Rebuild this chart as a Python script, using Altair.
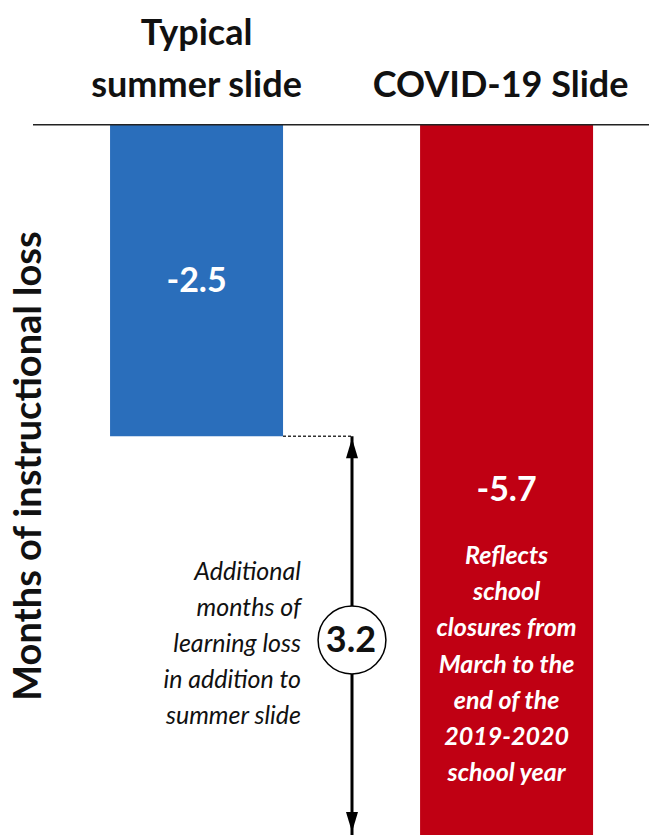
import altair as alt
import pandas as pd

categories = ["Typical summer slide", "COVID-19 Slide"]
values = [-2.5, -5.7]
bar_colors = ["#2A6EBB", "#C00013"]
header_blue = "Typical\nsummer slide"
header_red = "COVID-19 Slide"
value_labels = ["-2.5", "-5.7"]
gap_value = ["3.2"]
red_note = ["Reflects", "school", "closures from", "March to the", "end of the", "2019-2020", "school year"]
left_note = ["Additional", "months of", "learning loss", "in addition to", "summer slide"]
y_title = "Months of instructional loss"

FONT = "Lato"

df = pd.DataFrame({"cat": categories, "value": values, "color": bar_colors, "label": value_labels})

xscale = alt.Scale(domain=categories, paddingInner=0.442, paddingOuter=0.2677, align=0.663)
yscale = alt.Scale(domain=[-5.7, 1.0], nice=False, zero=False)
X = alt.X("cat:N", scale=xscale, axis=None, sort=categories)

one = pd.DataFrame({"k": [0]})

bars = alt.Chart(df).mark_bar().encode(
    x=X,
    y=alt.Y("value:Q", scale=yscale, axis=None),
    y2=alt.datum(0),
    color=alt.Color("color:N", scale=None),
)

baseline = alt.Chart(one).mark_rule(color="#222", strokeWidth=1.5).encode(
    y=alt.Y("zero:Q", scale=yscale, axis=None),
    x=alt.value(33), x2=alt.value(649),
).transform_calculate(zero="0")

hb_df = pd.DataFrame({"cat": [categories[0]], "t": [header_blue]})
hr_df = pd.DataFrame({"cat": [categories[1]], "t": [header_red]})
head_blue = alt.Chart(hb_df).mark_text(font=FONT, fontWeight="bold", fontSize=36, lineBreak="\n",
                                        lineHeight=52, baseline="alphabetic", color="#111").encode(
    x=X, y=alt.value(45), text="t:N")
head_red = alt.Chart(hr_df).mark_text(font=FONT, fontWeight="bold", fontSize=36,
                                       baseline="alphabetic", color="#111", dx=-6).encode(
    x=X, y=alt.value(97), text="t:N")

lbl_blue = alt.Chart(df.iloc[[0]]).mark_text(font=FONT, fontWeight="bold", fontSize=34,
                                              color="white", baseline="middle").encode(
    x=X, y=alt.value(282), text="label:N")
lbl_red = alt.Chart(df.iloc[[1]]).mark_text(font=FONT, fontWeight="bold", fontSize=34,
                                             color="white", baseline="middle").encode(
    x=X, y=alt.value(491), text="label:N")

note_df = pd.DataFrame({"cat": [categories[1]], "t": ["\n".join(red_note)]})
red_text = alt.Chart(note_df).mark_text(font=FONT, fontWeight="bold", fontStyle="italic", fontSize=25,
                                         color="white", lineBreak="\n", lineHeight=36.2,
                                         baseline="middle").encode(
    x=X, y=alt.value(556), text="t:N")

left_df = pd.DataFrame({"t": ["\n".join(left_note)]})
left_text = alt.Chart(left_df).mark_text(font=FONT, fontStyle="italic", fontSize=25, color="#111",
                                          lineBreak="\n", lineHeight=36, baseline="middle",
                                          align="right").encode(
    x=alt.value(301), y=alt.value(572), text="t:N")

dotted = alt.Chart(pd.DataFrame({"v": [values[0]]})).mark_rule(
    color="#333", strokeWidth=1.5, strokeDash=[3, 2]).encode(
    y=alt.Y("v:Q", scale=yscale, axis=None), x=alt.value(283), x2=alt.value(352))

arrow_df = pd.DataFrame({"top": [values[0]], "bot": [values[1]]})
arrow_line = alt.Chart(arrow_df).mark_rule(color="black", strokeWidth=3).encode(
    x=alt.value(352),
    y=alt.Y("top:Q", scale=yscale, axis=None), y2="bot:Q")
head_up = alt.Chart(arrow_df).mark_point(shape="M0,-1L-0.6,1L0.6,1Z", filled=True, color="black",
                                          opacity=1, size=400, yOffset=12).encode(
    x=alt.value(352), y=alt.Y("top:Q", scale=yscale, axis=None))
head_dn = alt.Chart(arrow_df).mark_point(shape="M0,1L-0.6,-1L0.6,-1Z", filled=True, color="black",
                                          opacity=1, size=400, yOffset=-13).encode(
    x=alt.value(352), y=alt.Y("bot:Q", scale=yscale, axis=None))

circle = alt.Chart(one).mark_point(shape="circle", filled=True, fill="white", stroke="black",
                                   strokeWidth=1.5, size=4600, opacity=1).encode(
    x=alt.value(352), y=alt.value(640))
gap_df = pd.DataFrame({"t": gap_value})
gap_text = alt.Chart(gap_df).mark_text(font=FONT, fontWeight="bold", fontSize=36, color="#111",
                                       baseline="middle").encode(
    x=alt.value(351), y=alt.value(641), text="t:N")

ytitle = alt.Chart(pd.DataFrame({"t": [y_title]})).mark_text(
    font=FONT, fontWeight="bold", fontSize=38, angle=270, color="#111", baseline="middle").encode(
    x=alt.value(30), y=alt.value(466), text="t:N")

chart = alt.layer(
    bars, baseline, head_blue, head_red, lbl_blue, lbl_red, red_text, left_text, dotted,
    arrow_line, head_up, head_dn, circle, gap_text, ytitle
).properties(
    width=649, height=835, padding=0, autosize=alt.AutoSizeParams(type="none"),
    background="white"
).configure_view(stroke=None)

chart.save("out.html", embed_options={"renderer": "svg", "actions": False})
